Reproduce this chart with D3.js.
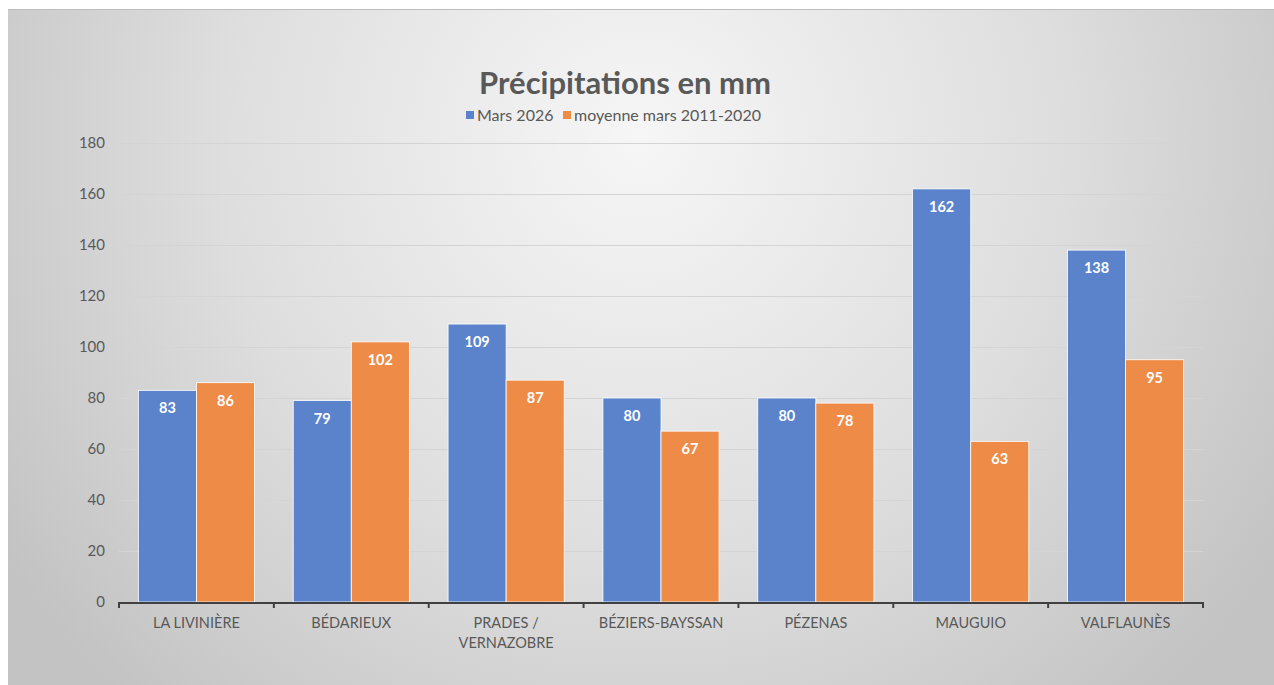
<!DOCTYPE html>
<html><head><meta charset="utf-8">
<script src="https://cdn.jsdelivr.net/npm/d3@7"></script>
<style>html,body{margin:0;padding:0;background:#fff;overflow:hidden}</style>
</head><body>
<svg id="c" width="1274" height="685"></svg>
<script>
const categories = ["LA LIVINIÈRE","BÉDARIEUX","PRADES / VERNAZOBRE","BÉZIERS-BAYSSAN","PÉZENAS","MAUGUIO","VALFLAUNÈS"];
const series = ["Mars 2026","moyenne mars 2011-2020"];
const mars2026 = [83,79,109,80,80,162,138];
const moyenne = [86,102,87,67,78,63,95];
const yTicks = [0,20,40,60,80,100,120,140,160,180];
const colors = ["#5A83CC","#EE8B47"];

(function(){
const svg = d3.select("#c");
const defs = svg.append("defs");
const rg = defs.append("radialGradient").attr("id","bg").attr("gradientUnits","userSpaceOnUse")
  .attr("cx",640).attr("cy",140).attr("r",760);
rg.append("stop").attr("offset","0").attr("stop-color","#f6f6f6");
rg.append("stop").attr("offset","0.55").attr("stop-color","#dedede");
rg.append("stop").attr("offset","1").attr("stop-color","#c3c3c3");
svg.append("rect").attr("x",8).attr("y",9).attr("width",1266).attr("height",676).attr("fill","url(#bg)");
svg.append("line").attr("x1",8).attr("x2",1274).attr("y1",9.5).attr("y2",9.5).attr("stroke","#bdbdbd");

const font = "Lato, 'Open Sans', sans-serif";
const pLeft = 119, pRight = 1203, pTop = 143, pBottom = 602;
const y = d3.scaleLinear().domain([0,180]).range([pBottom, pTop]);
const x0 = d3.scaleBand().domain(categories).range([pLeft,pRight]).paddingInner(0.25).paddingOuter(0.125);
const x1 = d3.scaleBand().domain(series).range([0,x0.bandwidth()]).padding(0);

svg.append("text").attr("x",625).attr("y",94).attr("text-anchor","middle")
  .attr("font-family",font).attr("font-weight","bold").attr("font-size",31).attr("fill","#595959")
  .text("Précipitations en mm");

const leg = svg.append("g").attr("font-family",font).attr("font-size",16).attr("fill","#595959");
const legX = [466, 563];
series.forEach((s,i)=>{
  leg.append("rect").attr("x",legX[i]).attr("y",111).attr("width",8).attr("height",8).attr("fill",colors[i]);
  leg.append("text").attr("x",legX[i]+11).attr("y",121).text(s);
});

const yAxis = d3.axisLeft(y).tickValues(yTicks).tickSize(-(pRight-pLeft)).tickPadding(14);
const gy = svg.append("g").attr("transform",`translate(${pLeft},0)`).call(yAxis);
gy.select(".domain").remove();
gy.selectAll(".tick line").attr("stroke","#d4d4d4").attr("stroke-width",1);
gy.selectAll(".tick text").attr("font-family",font).attr("font-size",15).attr("fill","#595959");

const data = categories.map((c,i)=>({c, vals:[mars2026[i], moyenne[i]]}));
const g = svg.append("g");
data.forEach(d=>{
  d.vals.forEach((v,j)=>{
    const bx = x0(d.c)+x1(series[j]);
    g.append("rect").attr("x",bx).attr("y",y(v)).attr("width",x1.bandwidth()).attr("height",y(0)-y(v))
      .attr("fill",colors[j]).attr("stroke","#ffffff").attr("stroke-width",0.8);
    g.append("text").attr("x",bx+x1.bandwidth()/2).attr("y",y(v)+23).attr("text-anchor","middle")
      .attr("font-family",font).attr("font-weight","bold").attr("font-size",14.5).attr("fill","#ffffff").text(v);
  });
});

const step = (pRight-pLeft)/categories.length;
const gx = svg.append("g");
gx.append("line").attr("x1",pLeft).attr("x2",pRight).attr("y1",pBottom+1).attr("y2",pBottom+1).attr("stroke","#404040").attr("stroke-width",2.2);
for(let i=0;i<=categories.length;i++){
  const tx = pLeft+i*step;
  gx.append("line").attr("x1",tx).attr("x2",tx).attr("y1",pBottom).attr("y2",pBottom+6).attr("stroke","#404040").attr("stroke-width",2);
}
categories.forEach(c=>{
  const cx = x0(c)+x0.bandwidth()/2;
  const lines = c==="PRADES / VERNAZOBRE" ? ["PRADES /","VERNAZOBRE"] : [c];
  lines.forEach((l,k)=>{
    gx.append("text").attr("x",cx).attr("y",628+k*20).attr("text-anchor","middle")
      .attr("font-family",font).attr("font-size",14.5).attr("fill","#595959").text(l);
  });
});
})();
</script>
</body></html>
